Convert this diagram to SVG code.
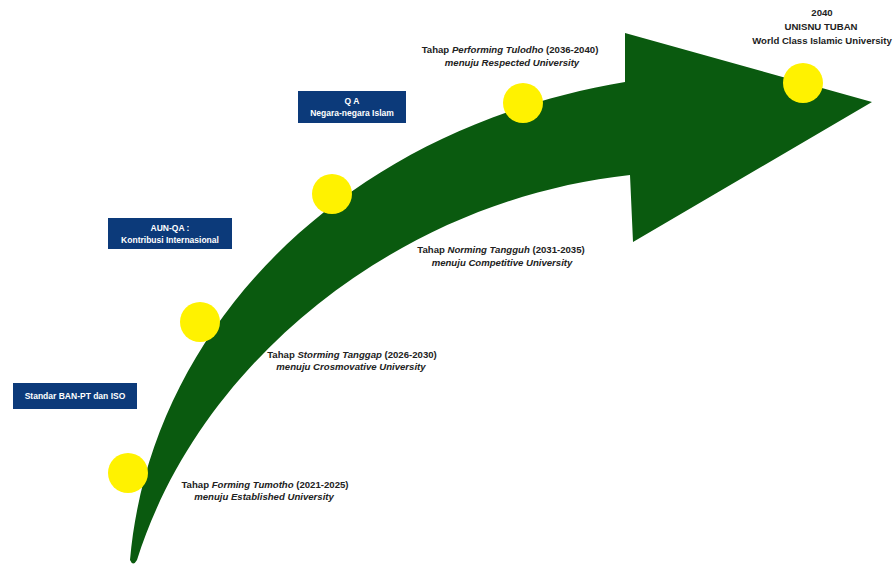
<svg xmlns="http://www.w3.org/2000/svg" width="893" height="566" viewBox="0 0 893 566">
<style>
.lbl{font-family:"Liberation Sans",Arial,sans-serif;font-size:9.6px;font-weight:bold;fill:#222;text-anchor:middle}
.box{fill:#0c3a7a}
.bt{font-family:"Liberation Sans",Arial,sans-serif;font-size:8.5px;font-weight:bold;fill:#fff;text-anchor:middle}
.dot{fill:#fff200}
</style>
<rect width="893" height="566" fill="#fff"/>
<g id="arrow">
<path d="M130,560 C150,330 340,130 625,82 L625,33 L872,102 L633,242 L630,175 C400,200 200,360 137,560 Q133,567 130,560 Z" fill="#0a5a0f"/>
</g>
<g id="milestones">
<g id="m1"><circle class="dot" cx="128" cy="473" r="20"/></g>
<g id="m2"><circle class="dot" cx="200" cy="322" r="20"/></g>
<g id="m3"><circle class="dot" cx="332" cy="194" r="20"/></g>
<g id="m4"><circle class="dot" cx="523" cy="103" r="20"/></g>
<g id="m5"><circle class="dot" cx="803" cy="83" r="20"/></g>
</g>
<g id="goal">
<text class="lbl" x="822" y="16">2040</text>
<text class="lbl" x="821" y="30">UNISNU TUBAN</text>
<text class="lbl" x="822" y="44">World Class Islamic University</text>
</g>
<g id="performing">
<text class="lbl" x="510" y="53">Tahap <tspan font-style="italic">Performing Tulodho</tspan> (2036-2040)</text>
<text class="lbl" x="512" y="66" font-style="italic">menuju Respected University</text>
</g>
<g id="norming">
<text class="lbl" x="501" y="253">Tahap <tspan font-style="italic">Norming Tangguh</tspan> (2031-2035)</text>
<text class="lbl" x="502" y="266" font-style="italic">menuju Competitive University</text>
</g>
<g id="storming">
<text class="lbl" x="352" y="358">Tahap <tspan font-style="italic">Storming Tanggap</tspan> (2026-2030)</text>
<text class="lbl" x="351" y="370" font-style="italic">menuju Crosmovative University</text>
</g>
<g id="forming">
<text class="lbl" x="265" y="488">Tahap <tspan font-style="italic">Forming Tumotho</tspan> (2021-2025)</text>
<text class="lbl" x="264" y="500" font-style="italic">menuju Established University</text>
</g>
<g id="qa">
<rect class="box" x="298" y="91" width="108" height="32"/>
<text class="bt" x="352" y="104">Q A</text>
<text class="bt" x="352" y="116">Negara-negara Islam</text>
</g>
<g id="aunqa">
<rect class="box" x="108" y="218" width="124" height="31"/>
<text class="bt" x="170" y="231">AUN-QA :</text>
<text class="bt" x="170" y="243">Kontribusi Internasional</text>
</g>
<g id="banpt">
<rect class="box" x="13" y="383" width="124" height="26"/>
<text class="bt" x="75" y="399">Standar BAN-PT dan ISO</text>
</g>
<g id="connectors"></g>
</svg>
